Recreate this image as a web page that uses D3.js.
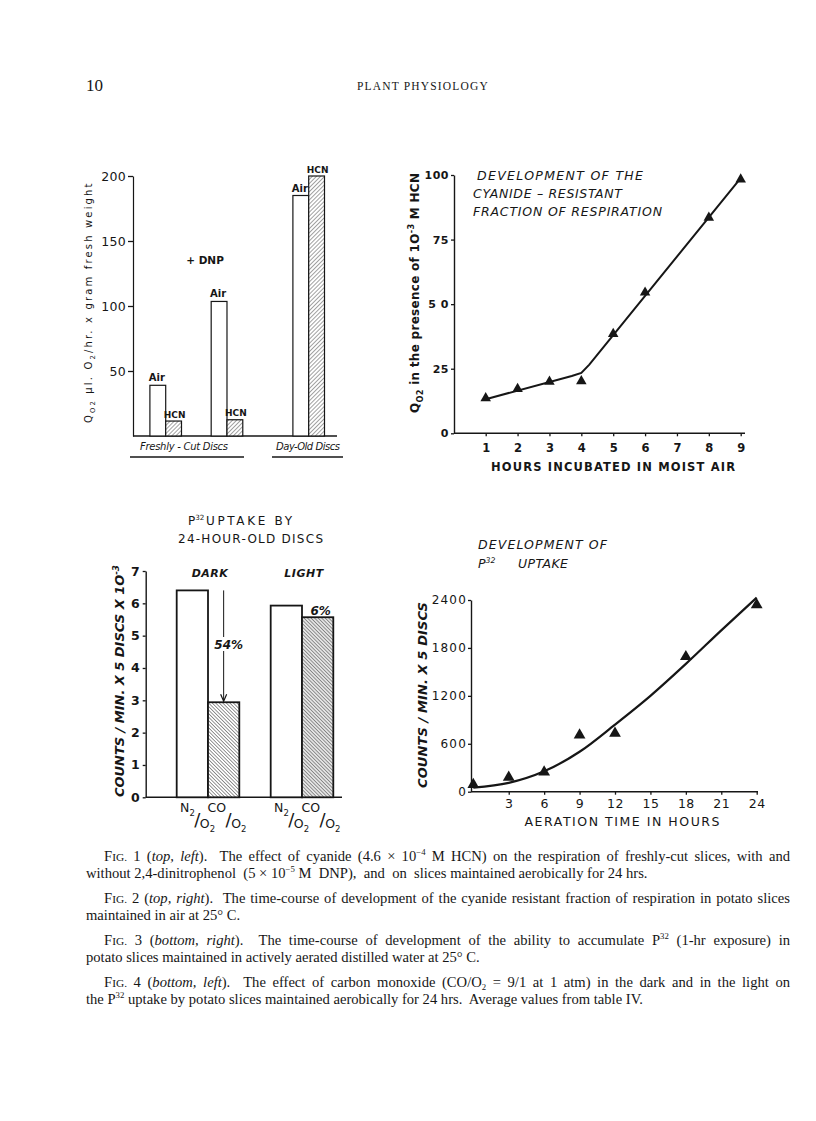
<!DOCTYPE html>
<html><head><meta charset="utf-8">
<script src="https://cdn.jsdelivr.net/npm/d3@7"></script>
<style>body{margin:0;background:#fff} svg{display:block}</style>
</head><body>
<svg id="c" width="816" height="1121"></svg>
<script>
// ---------------- DATA ----------------
// Fig. 1 – respiration (QO2) bars
const fig1Groups = ["Freshly-Cut", "Freshly-Cut + DNP", "Day-Old"];
const fig1Air = [39, 103.5, 185];
const fig1HCN = [11.5, 12.5, 200];
const fig1YTicks = [50, 100, 150, 200];

// Fig. 2 – cyanide resistant fraction
const fig2Hours = [1, 2, 3, 4, 5, 6, 8, 9];
const fig2QO2 = [13.6, 17.2, 20, 20.2, 38.5, 54.5, 83.5, 98.3];
const fig2FitHours = [1, 3.7, 4, 4.25, 9];
const fig2FitQO2 = [13.2, 22.2, 23.4, 26.6, 98.8];
const fig2YTicks = [0, 25, 50, 75, 100];
const fig2XTicks = [1, 2, 3, 4, 5, 6, 7, 8, 9];

// Fig. 3 – development of P32 uptake
const fig3Hours = [0, 3, 6, 9, 12, 18, 24];
const fig3Counts = [90, 180, 245, 710, 730, 1690, 2340];
const fig3FitHours = [0, 3, 6, 9, 12, 15, 18, 21, 24];
const fig3FitCounts = [50, 110, 255, 500, 840, 1200, 1600, 2020, 2430];
const fig3YTicks = [0, 600, 1200, 1800, 2400];
const fig3XTicks = [3, 6, 9, 12, 15, 18, 21, 24];

// Fig. 4 – P32 uptake by 24-hour-old discs
const fig4Conditions = ["DARK", "LIGHT"];
const fig4N2 = [6.4, 5.93];
const fig4CO = [2.94, 5.57];
const fig4Change = ["54%", "6%"];
const fig4YTicks = [0, 1, 2, 3, 4, 5, 6, 7];

// ---------------- HELPERS ----------------
const ink = "#161616";
const sans = "'DejaVu Sans', 'Liberation Sans', sans-serif";
const serif = "'Liberation Serif', 'DejaVu Serif', serif";
const svg = d3.select("#c");
svg.append("rect").attr("width", 816).attr("height", 1121).attr("fill", "#fff");

const defs = svg.append("defs");
function hatch(id, w, angle, sw, bg) {
  const p = defs.append("pattern").attr("id", id).attr("patternUnits", "userSpaceOnUse")
    .attr("width", w).attr("height", w).attr("patternTransform", `rotate(${angle})`);
  p.append("rect").attr("width", w).attr("height", w).attr("fill", bg);
  p.append("line").attr("x1", 0).attr("y1", 0).attr("x2", 0).attr("y2", w)
    .attr("stroke", ink).attr("stroke-width", sw);
}
hatch("h1", 2.9, 45, 0.8, "#fff");
hatch("h4", 2.5, -45, 0.9, "#fff");
hatch("h4b", 2.5, -45, 0.8, "#e4e4e4");

function label(g, o) {
  const size = o.size || 12;
  const t = g.append("text").attr("x", o.x).attr("y", o.y)
    .attr("font-family", o.family || sans).attr("font-size", size)
    .attr("fill", ink).attr("text-anchor", o.anchor || "start");
  if (o.weight) t.attr("font-weight", o.weight);
  if (o.style) t.attr("font-style", o.style);
  if (o.ls) t.attr("letter-spacing", o.ls);
  if (o.rot) t.attr("transform", `rotate(${o.rot},${o.x},${o.y})`);
  let shift = 0;
  const parts = o.parts || [[o.text, ""]];
  parts.forEach(([s, k]) => {
    const ts = t.append("tspan").text(s);
    const target = k === "sub" ? size * (o.subDy || 0.3) : k === "sup" ? -size * 0.38 : 0;
    if (target - shift !== 0) ts.attr("dy", target - shift);
    shift = target;
    if (k === "sub" || k === "sup") ts.attr("font-size", size * (o.subScale || 0.68));
    if (k === "sc") ts.attr("font-size", size * 0.78);
    if (k === "i") ts.attr("font-style", "italic");
  });
  if (o.len) t.attr("textLength", o.len).attr("lengthAdjust", "spacing");
  return t;
}
function styleAxis(a, size, weight, ls) {
  a.select(".domain").attr("stroke", ink).attr("stroke-width", 1.4);
  a.selectAll(".tick line").attr("stroke", ink).attr("stroke-width", 1.3);
  a.selectAll(".tick text").attr("fill", ink).attr("font-family", sans)
    .attr("font-size", size).attr("font-weight", weight || "normal")
    .attr("letter-spacing", ls || 0);
}

// ---------------- HEADER ----------------
label(svg, {x: 86, y: 91, text: "10", family: serif, size: 17});
label(svg, {x: 423, y: 90, anchor: "middle", family: serif, size: 11.5, ls: 1.2,
  parts: [["PLANT PHYSIOLOGY", ""]], len: 132});

// ---------------- FIG 1 ----------------
{
  const g = svg.append("g");
  const y = d3.scaleLinear().domain([0, 200]).range([436, 176]);
  const x = d3.scalePoint()
    .domain([fig1Groups[0], "_a", "_b", fig1Groups[1], "_c", "_d", "_e", fig1Groups[2]])
    .range([165.7, 308.7]);
  const bw = 15.8;
  const ax = g.append("g").attr("transform", "translate(133,0)")
    .call(d3.axisLeft(y).tickValues(fig1YTicks).tickSize(5).tickSizeOuter(0).tickPadding(2));
  styleAxis(ax, 12.5, "normal", 0.3);
  ax.select(".domain").attr("stroke-width", 1.2);
  g.append("line").attr("x1", 133).attr("x2", 337).attr("y1", y(0)).attr("y2", y(0))
    .attr("stroke", ink).attr("stroke-width", 1.3);
  fig1Groups.forEach((grp, i) => {
    const cx = x(grp);
    g.append("rect").attr("x", cx - bw).attr("y", y(fig1Air[i])).attr("width", bw)
      .attr("height", y(0) - y(fig1Air[i])).attr("fill", "#fff").attr("stroke", ink).attr("stroke-width", 1.2);
    g.append("rect").attr("x", cx).attr("y", y(fig1HCN[i])).attr("width", bw)
      .attr("height", y(0) - y(fig1HCN[i])).attr("fill", "url(#h1)").attr("stroke", ink).attr("stroke-width", 1.2);
    label(g, {x: cx - bw / 2 - 1, y: y(fig1Air[i]) - 4, anchor: "middle", text: "Air", size: 10, weight: "bold"});
    label(g, {x: cx + bw / 2 + 1, y: y(fig1HCN[i]) - 3.5, anchor: "middle", text: "HCN", size: 9, weight: "bold"});
  });
  label(g, {x: 205, y: 264, anchor: "middle", text: "+ DNP", size: 10.5, weight: "bold"});
  label(g, {x: 184, y: 450, anchor: "middle", text: "Freshly - Cut  Discs", size: 10, style: "italic", len: 88});
  g.append("line").attr("x1", 130).attr("x2", 244).attr("y1", 457).attr("y2", 457).attr("stroke", ink).attr("stroke-width", 1.3);
  label(g, {x: 308, y: 450, anchor: "middle", text: "Day-Old Discs", size: 10, style: "italic", len: 64});
  g.append("line").attr("x1", 272).attr("x2", 343).attr("y1", 457).attr("y2", 457).attr("stroke", ink).attr("stroke-width", 1.3);
  label(g, {x: 92, y: 303, rot: -90, anchor: "middle", size: 10, ls: 0.5, len: 240,
    parts: [["Q", ""], ["O2", "sub"], ["  \u00b5l. O", ""], ["2", "sub"], ["/hr. x gram fresh weight", ""]]});
}

// ---------------- FIG 2 ----------------
{
  const g = svg.append("g");
  const x = d3.scaleLinear().domain([1, 9]).range([485.7, 740.7]);
  const y = d3.scaleLinear().domain([0, 100]).range([433.3, 175]);
  const ay = g.append("g").attr("transform", "translate(454,0)")
    .call(d3.axisLeft(y).tickValues(fig2YTicks).tickFormat(d => d === 50 ? "5 0" : d).tickSize(3).tickSizeOuter(0).tickPadding(2));
  styleAxis(ay, 11, "bold", 0.5);
  const axx = g.append("g").attr("transform", `translate(0,${y(0)})`)
    .call(d3.axisBottom(x).tickValues(fig2XTicks).tickSize(3).tickSizeOuter(0).tickPadding(8));
  styleAxis(axx, 11.5, "bold", 0);
  axx.select(".domain").remove();
  g.append("line").attr("x1", 454).attr("x2", 745).attr("y1", y(0)).attr("y2", y(0)).attr("stroke", ink).attr("stroke-width", 1.4);
  g.append("path").datum(fig2FitHours.map((h, i) => [h, fig2FitQO2[i]]))
    .attr("d", d3.line().x(d => x(d[0])).y(d => y(d[1])).curve(d3.curveLinear))
    .attr("fill", "none").attr("stroke", ink).attr("stroke-width", 2);
  g.selectAll(".tri").data(fig2Hours.map((h, i) => [h, fig2QO2[i]])).join("path")
    .attr("transform", d => `translate(${x(d[0])},${y(d[1])})`)
    .attr("d", d3.symbol(d3.symbolTriangle, 48)).attr("fill", ink);
  label(g, {x: 613, y: 471, anchor: "middle", text: "HOURS  INCUBATED  IN  MOIST  AIR", size: 11.5, weight: "bold", len: 244});
  label(g, {x: 419, y: 293, rot: -90, anchor: "middle", size: 12, weight: "bold", len: 240,
    parts: [["Q", ""], ["O2", "sub"], [" in the presence of 1O", ""], ["-3", "sup"], [" M HCN", ""]]});
  label(g, {x: 477, y: 180, text: "DEVELOPMENT  OF  THE", size: 12.5, style: "italic", len: 166});
  label(g, {x: 473, y: 198, text: "CYANIDE \u2013 RESISTANT", size: 12.5, style: "italic", len: 149});
  label(g, {x: 473, y: 216, text: "FRACTION  OF  RESPIRATION", size: 12.5, style: "italic", len: 189});
}

// ---------------- FIG 3 ----------------
{
  const g = svg.append("g");
  const x = d3.scaleLinear().domain([0, 24]).range([473.3, 756.7]);
  const y = d3.scaleLinear().domain([0, 2400]).range([791.7, 600]);
  const ay = g.append("g").attr("transform", "translate(471,0)")
    .call(d3.axisLeft(y).tickValues(fig3YTicks).tickFormat(d3.format("d")).tickSize(3).tickSizeOuter(0).tickPadding(1));
  styleAxis(ay, 12, "normal", 1.2);
  const axx = g.append("g").attr("transform", `translate(0,${y(0)})`)
    .call(d3.axisBottom(x).tickValues(fig3XTicks).tickSize(3).tickSizeOuter(0).tickPadding(4));
  styleAxis(axx, 12.5, "normal", 0.5);
  axx.select(".domain").remove();
  g.append("line").attr("x1", 471).attr("x2", 758).attr("y1", y(0)).attr("y2", y(0)).attr("stroke", ink).attr("stroke-width", 1.4);
  g.append("path").datum(fig3FitHours.map((h, i) => [h, fig3FitCounts[i]]))
    .attr("d", d3.line().x(d => x(d[0])).y(d => y(d[1])).curve(d3.curveMonotoneX))
    .attr("fill", "none").attr("stroke", ink).attr("stroke-width", 2.2);
  g.selectAll(".tri").data(fig3Hours.map((h, i) => [h, fig3Counts[i]])).join("path")
    .attr("transform", d => `translate(${x(d[0])},${y(d[1])})`)
    .attr("d", d3.symbol(d3.symbolTriangle, 60)).attr("fill", ink);
  label(g, {x: 622, y: 826, anchor: "middle", text: "AERATION  TIME  IN  HOURS", size: 12.5, len: 195});
  label(g, {x: 427, y: 695, rot: -90, anchor: "middle", text: "COUNTS / MIN. X 5  DISCS", size: 13, style: "italic", weight: "bold", len: 186});
  label(g, {x: 478, y: 549, text: "DEVELOPMENT  OF", size: 12.5, style: "italic", len: 129});
  label(g, {x: 478, y: 568, size: 12.5, style: "italic", subScale: 0.62, parts: [["P", ""], ["32", "sup"]]});
  label(g, {x: 518, y: 568, text: "UPTAKE", size: 12.5, style: "italic", len: 50});
}

// ---------------- FIG 4 ----------------
{
  const g = svg.append("g");
  const y = d3.scaleLinear().domain([0, 7]).range([797.3, 571]);
  const x = d3.scaleBand().domain(fig4Conditions).range([176.7, 333.3]).paddingInner(0.334).paddingOuter(0);
  const bw = x.bandwidth() / 2;
  const ay = g.append("g").attr("transform", "translate(145.7,0)")
    .call(d3.axisLeft(y).tickValues(fig4YTicks).tickFormat(d3.format("d")).tickSize(3).tickSizeOuter(0).tickPadding(3));
  styleAxis(ay, 12.5, "bold", 0);
  g.append("line").attr("x1", 145.7).attr("x2", 342).attr("y1", y(0)).attr("y2", y(0)).attr("stroke", ink).attr("stroke-width", 1.6);
  fig4Conditions.forEach((c, i) => {
    const x0 = x(c);
    g.append("rect").attr("x", x0).attr("y", y(fig4N2[i])).attr("width", bw).attr("height", y(0) - y(fig4N2[i]))
      .attr("fill", "#fff").attr("stroke", ink).attr("stroke-width", 1.8);
    g.append("rect").attr("x", x0 + bw).attr("y", y(fig4CO[i])).attr("width", bw).attr("height", y(0) - y(fig4CO[i]))
      .attr("fill", i === 0 ? "url(#h4)" : "url(#h4b)").attr("stroke", ink).attr("stroke-width", 1.8);
    label(g, {x: x0 + bw + 2, y: 577, anchor: "middle", text: c, size: 11, style: "italic", weight: "bold", ls: 0.5});
    // fraction labels
    [[x0 + bw / 2, "N"], [x0 + bw * 1.5, "CO"]].forEach(([cx, num]) => {
      label(g, {x: cx + 2.5, y: 812, anchor: "end", size: 12.5, parts: [[num, ""], ["2", "sub"]].slice(0, num === "N" ? 2 : 1)});
      label(g, {x: cx + 5, y: 826, anchor: "middle", text: "/", size: 18});
      label(g, {x: cx + 7.5, y: 828, size: 12.5, parts: [["O", ""], ["2", "sub"]]});
    });
  });
  // arrow in dark
  const ax0 = x("DARK") + bw * 1.5;
  g.append("line").attr("x1", ax0).attr("x2", ax0).attr("y1", y(fig4N2[0])).attr("y2", y(fig4CO[0]) - 2)
    .attr("stroke", ink).attr("stroke-width", 1);
  g.append("path").attr("d", `M${ax0 - 3},${y(fig4CO[0]) - 8}L${ax0},${y(fig4CO[0]) - 1}L${ax0 + 3},${y(fig4CO[0]) - 8}`)
    .attr("fill", "none").attr("stroke", ink).attr("stroke-width", 1.2);
  g.append("rect").attr("x", ax0 - 12).attr("y", 637).attr("width", 36).attr("height", 14).attr("fill", "#fff");
  label(g, {x: ax0 + 5, y: 649, anchor: "middle", text: fig4Change[0], size: 12, style: "italic", weight: "bold"});
  label(g, {x: x("LIGHT") + bw * 1.5 + 3, y: 615, anchor: "middle", text: fig4Change[1], size: 12, style: "italic", weight: "bold"});
  label(g, {x: 124, y: 681, rot: -90, anchor: "middle", size: 13, style: "italic", weight: "bold", len: 232,
    parts: [["COUNTS / MIN. X 5 DISCS X 1O", ""], ["-3", "sup"]]});
  label(g, {x: 188, y: 525, size: 12, subScale: 0.6, parts: [["P", ""], ["32", "sup"]]});
  label(g, {x: 206, y: 525, text: "UPTAKE  BY", size: 12, len: 86});
  label(g, {x: 250.5, y: 543, anchor: "middle", text: "24-HOUR-OLD  DISCS", size: 12, len: 145});
}

// ---------------- CAPTIONS ----------------
{
  const g = svg.append("g");
  const lines = [
    {x: 104, y: 861, w: 686, parts: [["F", ""], ["IG.", "sc"], [" 1 (", ""], ["top, left", "i"], [").  The effect of cyanide (4.6 \u00d7 10", ""], ["\u22124", "sup"], [" M HCN) on the respiration of freshly-cut slices, with and", ""]]},
    {x: 86, y: 878, w: 0, parts: [["without 2,4-dinitrophenol  (5 \u00d7 10", ""], ["\u22125", "sup"], [" M  DNP),  and  on  slices maintained aerobically for 24 hrs.", ""]]},
    {x: 104, y: 903, w: 686, parts: [["F", ""], ["IG.", "sc"], [" 2 (", ""], ["top, right", "i"], [").  The time-course of development of the cyanide resistant fraction of respiration in potato slices", ""]]},
    {x: 86, y: 920, w: 0, parts: [["maintained in air at 25\u00b0 C.", ""]]},
    {x: 104, y: 945, w: 686, parts: [["F", ""], ["IG.", "sc"], [" 3 (", ""], ["bottom, right", "i"], [").  The time-course of development of the ability to accumulate P", ""], ["32", "sup"], [" (1-hr exposure) in", ""]]},
    {x: 86, y: 962, w: 0, parts: [["potato slices maintained in actively aerated distilled water at 25\u00b0 C.", ""]]},
    {x: 104, y: 987, w: 686, parts: [["F", ""], ["IG.", "sc"], [" 4 (", ""], ["bottom, left", "i"], [").  The effect of carbon monoxide (CO/O", ""], ["2", "sub"], [" = 9/1 at 1 atm) in the dark and in the light on", ""]]},
    {x: 86, y: 1004, w: 0, parts: [["the P", ""], ["32", "sup"], [" uptake by potato slices maintained aerobically for 24 hrs.  Average values from table IV.", ""]]}
  ];
  lines.forEach(l => {
    const t = label(g, {x: l.x, y: l.y, family: serif, size: 14.6, subDy: 0.18, subScale: 0.6, parts: l.parts});
    t.attr("xml:space", "preserve");
    if (l.w) {
      const L = t.node().getComputedTextLength();
      const n = l.parts.map(p => p[0]).join("").split(" ").length - 1;
      t.attr("word-spacing", (l.w - L) / n);
    }
  });
}
</script>
</body></html>
